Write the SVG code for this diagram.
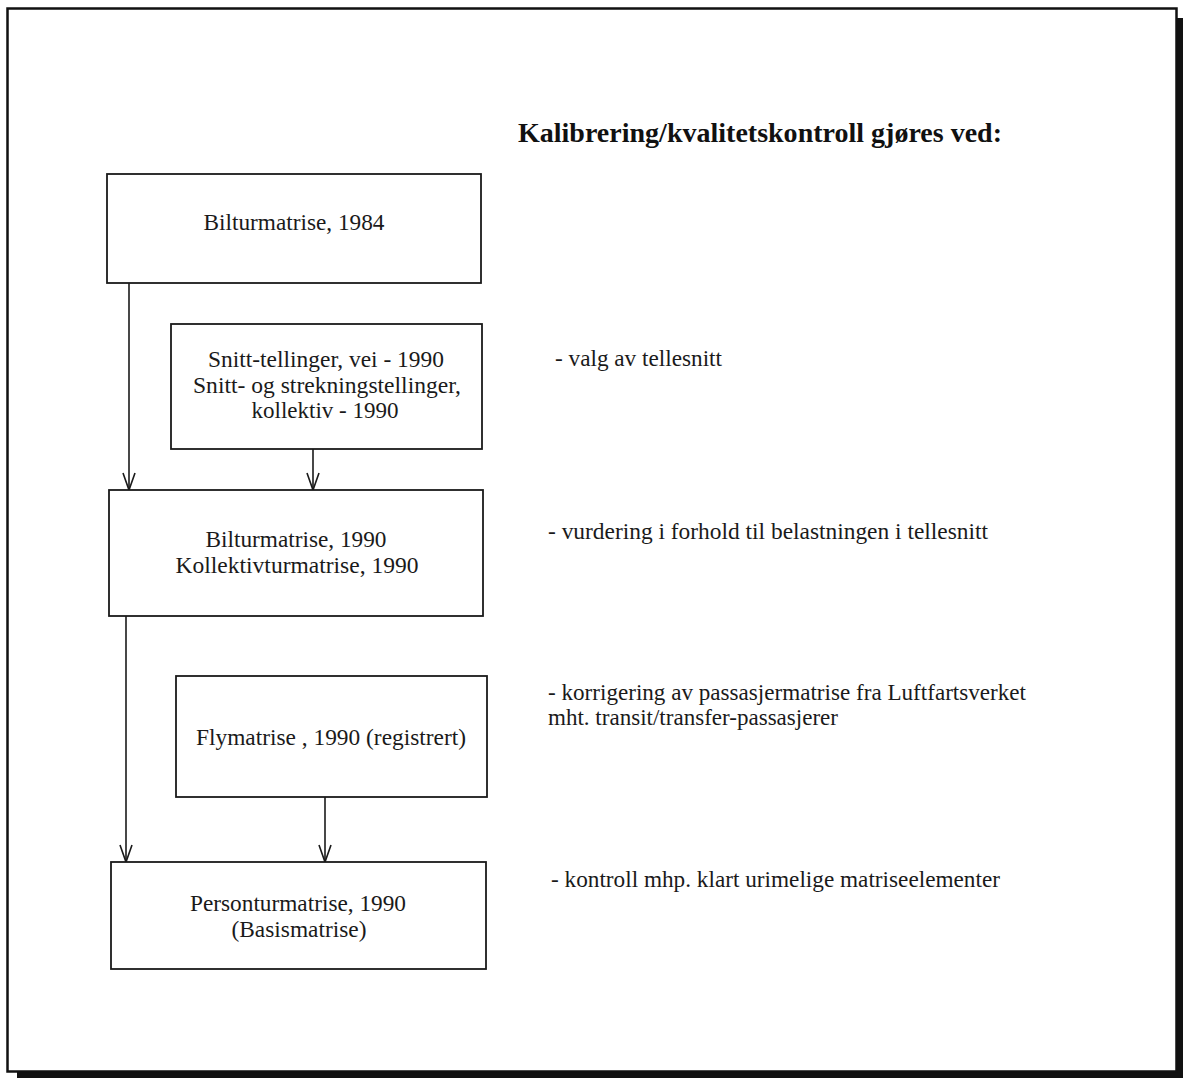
<svg xmlns="http://www.w3.org/2000/svg" width="1183" height="1078" viewBox="0 0 1183 1078">
  <style>
    .box { fill: #ffffff; stroke: #1a1a1a; stroke-width: 1.8; }
    .lbl { font-family: "Liberation Serif", "Times New Roman", serif; font-size: 23.5px; fill: #1a1a1a; text-anchor: middle; }
    .note { font-family: "Liberation Serif", "Times New Roman", serif; font-size: 23.5px; fill: #1a1a1a; }
    .title { font-family: "Liberation Serif", "Times New Roman", serif; font-size: 28px; font-weight: bold; fill: #111111; }
    .edge { fill: none; stroke: #1a1a1a; stroke-width: 1.6; marker-end: url(#vhead); }
  </style>
  <defs>
    <marker id="vhead" markerUnits="userSpaceOnUse" markerWidth="40" markerHeight="40" refX="0" refY="0" orient="auto" overflow="visible">
      <path d="M-17,-6 L0,0 L-17,6" fill="none" stroke="#1a1a1a" stroke-width="1.6"/>
    </marker>
  </defs>

  <!-- page background and framed border with drop shadow -->
  <rect x="0" y="0" width="1183" height="1078" fill="#ffffff"/>
  <rect x="1177" y="18" width="6" height="1060" fill="#111111"/>
  <rect x="17" y="1071" width="1166" height="7" fill="#111111"/>
  <rect x="7.5" y="8.5" width="1169" height="1063" fill="none" stroke="#111111" stroke-width="2.5"/>

  <!-- heading -->
  <text class="title" x="518" y="142" textLength="484" lengthAdjust="spacingAndGlyphs">Kalibrering/kvalitetskontroll gjøres ved:</text>

  <!-- connectors -->
  <g id="connectors">
    <path class="edge" d="M129,283 L129,490"/>
    <path class="edge" d="M313,449 L313,490"/>
    <path class="edge" d="M126,616 L126,862"/>
    <path class="edge" d="M325,797 L325,862"/>
  </g>

  <!-- flow nodes -->
  <g id="node-bil1984">
    <rect class="box" x="107" y="174" width="374" height="109"/>
    <text class="lbl" x="294" y="230" textLength="181" lengthAdjust="spacingAndGlyphs">Bilturmatrise, 1984</text>
  </g>

  <g id="node-snitt">
    <rect class="box" x="171" y="324" width="311" height="125"/>
    <text class="lbl" x="326" y="367" textLength="236" lengthAdjust="spacingAndGlyphs">Snitt-tellinger, vei - 1990</text>
    <text class="lbl" x="327" y="393" textLength="268" lengthAdjust="spacingAndGlyphs">Snitt- og strekningstellinger,</text>
    <text class="lbl" x="325" y="418" textLength="147" lengthAdjust="spacingAndGlyphs">kollektiv - 1990</text>
  </g>

  <g id="node-bil1990">
    <rect class="box" x="109" y="490" width="374" height="126"/>
    <text class="lbl" x="296" y="547" textLength="181" lengthAdjust="spacingAndGlyphs">Bilturmatrise, 1990</text>
    <text class="lbl" x="297" y="573" textLength="243" lengthAdjust="spacingAndGlyphs">Kollektivturmatrise, 1990</text>
  </g>

  <g id="node-fly">
    <rect class="box" x="176" y="676" width="311" height="121"/>
    <text class="lbl" x="331" y="745" textLength="270" lengthAdjust="spacingAndGlyphs">Flymatrise , 1990 (registrert)</text>
  </g>

  <g id="node-person">
    <rect class="box" x="111" y="862" width="375" height="107"/>
    <text class="lbl" x="298" y="911" textLength="216" lengthAdjust="spacingAndGlyphs">Personturmatrise, 1990</text>
    <text class="lbl" x="299" y="937" textLength="135" lengthAdjust="spacingAndGlyphs">(Basismatrise)</text>
  </g>

  <!-- notes on each calibration step -->
  <g id="notes">
    <text class="note" x="555" y="366" textLength="167" lengthAdjust="spacingAndGlyphs">- valg av tellesnitt</text>
    <text class="note" x="548" y="539" textLength="440" lengthAdjust="spacingAndGlyphs">- vurdering i forhold til belastningen i tellesnitt</text>
    <text class="note" x="548" y="700" textLength="478" lengthAdjust="spacingAndGlyphs">- korrigering av passasjermatrise fra Luftfartsverket</text>
    <text class="note" x="548" y="725" textLength="290" lengthAdjust="spacingAndGlyphs">mht. transit/transfer-passasjerer</text>
    <text class="note" x="551" y="887" textLength="449" lengthAdjust="spacingAndGlyphs">- kontroll mhp. klart urimelige matriseelementer</text>
  </g>
</svg>
